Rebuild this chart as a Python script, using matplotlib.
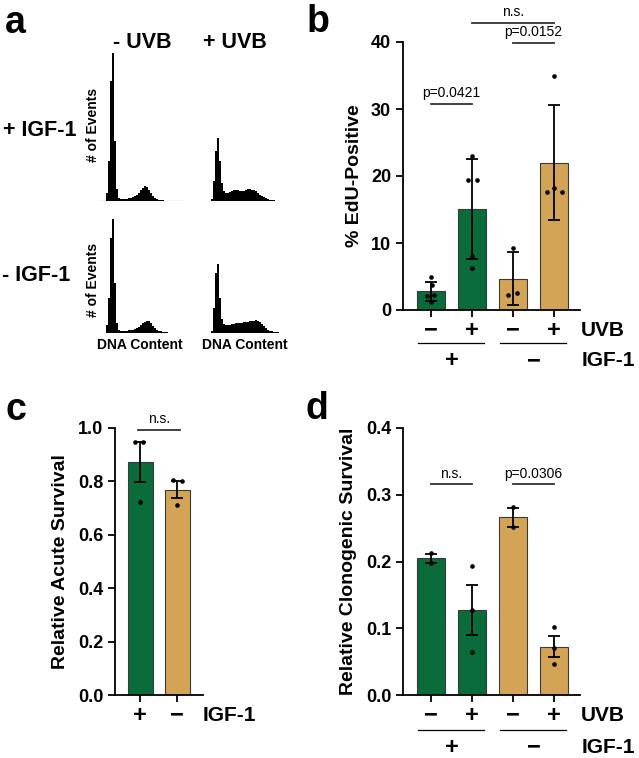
#!/usr/bin/env python3
"""Four-panel figure: cell-cycle histograms, EdU incorporation and survival."""

import matplotlib

matplotlib.use("Agg")
import matplotlib.pyplot as plt

W, H = 639, 758
GREEN = "#0a6b3b"
TAN = "#d4a456"
EDGE = "#3a3a3a"

# panel a: flow histograms (bin heights, arbitrary units)
HIST_PLUS_IGF_MINUS_UVB = [
    0, 0, 0, 0, 8, 40, 120, 148, 60, 12, 3, 2, 2, 2, 2.5, 3, 3, 4, 5, 6,
    8, 11, 13, 15, 14, 11, 8, 5, 3, 2, 1.5, 1, 1, 0.5, 0.5, 0.5, 0.3, 0,
    0.3, 0, 0.3, 0.3, 0,
]
HIST_PLUS_IGF_PLUS_UVB = [
    2, 20, 50, 63, 40, 18, 10, 8, 8, 9, 10, 11, 11, 11, 10, 10, 10, 11, 12,
    12, 11, 11, 10, 8, 6, 5, 4, 3, 2, 1.5, 1, 1, 0.5, 0.5, 0.3, 0, 0.3, 0,
]
HIST_MINUS_IGF_MINUS_UVB = [
    0, 8, 35, 95, 114, 50, 10, 3, 2, 2, 2, 2, 2.5, 3, 3, 4, 5, 6, 8, 10,
    11, 12, 12, 10, 7, 5, 3, 2, 1.5, 1, 0.5, 0.5, 0.3, 0, 0.3, 0,
]
HIST_MINUS_IGF_PLUS_UVB = [
    2, 25, 60, 69, 35, 14, 9, 8, 8, 8, 9, 9, 10, 10, 10, 10, 11, 11, 11,
    12, 12, 12, 13, 12, 11, 9, 7, 5, 3, 2, 1.5, 1, 0.5, 0.5, 0.3, 0,
]

# panel b: % EdU-positive (mean, SD, replicates)
UVB_SIGNS = ["\u2212", "+", "\u2212", "+"]
IGF_SIGNS = ["+", "\u2212"]
BAR_COLORS = [GREEN, GREEN, TAN, TAN]
EDU_MEAN = [2.8, 15.1, 4.7, 22.0]
EDU_ERR = [1.4, 7.45, 3.9, 8.6]
EDU_POINTS = [
    [4.9, 3.7, 2.2, 2.1, 1.2],
    [23.0, 19.4, 19.4, 8.1, 6.2],
    [9.2, 2.2, 2.6],
    [35.0, 17.6, 18.2, 17.6],
]
EDU_JITTER = [
    [0, 0.02, 0.08, -0.1, 0],
    [0, -0.1, 0.12, 0, 0],
    [0, -0.12, 0.1],
    [0, -0.18, 0, 0.18],
]

# panel c: relative acute survival (mean, SEM, replicates)
ACUTE_MEAN = [0.873, 0.769]
ACUTE_ERR = [0.076, 0.031]
ACUTE_POINTS = [[0.948, 0.948, 0.721], [0.805, 0.80, 0.711]]
ACUTE_JITTER = [[-0.14, 0.08, 0], [-0.1, 0.12, 0]]

# panel d: relative clonogenic survival (mean, SEM, replicates)
CLONO_MEAN = [0.2045, 0.128, 0.266, 0.0723]
CLONO_ERR = [0.007, 0.0375, 0.0145, 0.0159]
CLONO_POINTS = [
    [0.213, 0.1985],
    [0.194, 0.128, 0.064],
    [0.281, 0.252],
    [0.102, 0.070, 0.047],
]

plt.rcParams.update({
    "font.family": ["Liberation Sans", "DejaVu Sans"],
    "font.weight": "bold",
    "axes.linewidth": 1.3,
})
fig = plt.figure(figsize=(W / 100, H / 100), dpi=100)


def px_axes(left, top, right, bottom):
  return fig.add_axes([left / W, 1 - bottom / H, (right - left) / W,
                       (bottom - top) / H])


def px_text(x, y, s, **kw):
  kw.setdefault("ha", "center")
  kw.setdefault("va", "center")
  kw.setdefault("fontweight", "bold")
  fig.text(x / W, 1 - y / H, s, **kw)


# ---------- panel a ----------
def histogram(left, baseline, values, line=False):
  ax = px_axes(left, baseline - 150, left + 2 * len(values), baseline)
  ax.stairs(values, range(len(values) + 1), fill=True, color="black",
            linewidth=0)
  if line:
    ax.axhline(0, color="#3a3a8a", linewidth=0.8, zorder=0)
  ax.set_xlim(0, len(values))
  ax.set_ylim(0, 150)
  ax.axis("off")


histogram(98, 201, HIST_PLUS_IGF_MINUS_UVB, line=True)
histogram(211, 201, HIST_PLUS_IGF_PLUS_UVB)
histogram(104, 333, HIST_MINUS_IGF_MINUS_UVB)
histogram(211, 333, HIST_MINUS_IGF_PLUS_UVB)

px_text(15, 23, "a", fontsize=27)
px_text(142, 43, "- UVB", fontsize=15.5)
px_text(235, 43, "+ UVB", fontsize=15.5)
px_text(40, 130, "+ IGF-1", fontsize=15.5)
px_text(36, 275, "- IGF-1", fontsize=15.5)
px_text(93, 125, "# of Events", fontsize=10, rotation=90)
px_text(93, 280, "# of Events", fontsize=10, rotation=90)
px_text(140, 345, "DNA Content", fontsize=10)
px_text(245, 345, "DNA Content", fontsize=10)

px_text(318, 22, "b", fontsize=27)
px_text(16, 410, "c", fontsize=27)
px_text(317, 409, "d", fontsize=27)


def style(ax, yticks, ylabel):
  for side in ("top", "right"):
    ax.spines[side].set_visible(False)
  ax.set_yticks(yticks)
  ax.tick_params(axis="y", length=5, width=1.3, labelsize=13)
  ax.tick_params(axis="x", length=5, width=1.3, labelbottom=False)
  for lab in ax.get_yticklabels():
    lab.set_fontweight("bold")
  ax.set_ylabel(ylabel, fontsize=14, fontweight="bold", labelpad=6)


def bars(ax, means, errs, points, jitter, colors):
  x = list(range(len(means)))
  ax.bar(x, means, width=0.68, color=colors, edgecolor=EDGE, linewidth=0.8,
         zorder=2)
  ax.errorbar(x, means, yerr=errs, fmt="none", ecolor="black",
              elinewidth=1.3, capsize=4.5, capthick=1.3, zorder=3)
  for i, (pts, jit) in enumerate(zip(points, jitter)):
    ax.scatter([i + j for j in jit], pts, s=11, color="black", zorder=4,
               linewidths=0)
  ax.set_xticks(x)


def bracket(ax, x0, x1, y, label, dy):
  ax.plot([x0, x1], [y, y], color="#333333", linewidth=1.3, clip_on=False)
  ax.text((x0 + x1) / 2, y + dy, label, ha="center", va="bottom",
          fontsize=10, fontweight="normal", clip_on=False)


def group_rows(ax, row_y, line_y, igf_y, label_x):
  tr = ax.get_xaxis_transform()
  for i, sign in enumerate(UVB_SIGNS):
    ax.text(i, row_y, sign, transform=tr, ha="center", va="center",
            fontsize=17, fontweight="bold")
  ax.text(label_x, row_y, "UVB", transform=tr, ha="left", va="center",
          fontsize=15, fontweight="bold")
  for k, sign in enumerate(IGF_SIGNS):
    lo = 2 * k
    ax.plot([lo - 0.32, lo + 1.3], [line_y, line_y], transform=tr,
            color="black", linewidth=0.9, clip_on=False)
    ax.text(lo + 0.5, igf_y, sign, transform=tr, ha="center", va="center",
            fontsize=17, fontweight="bold")
  ax.text(label_x, igf_y, "IGF-1", transform=tr, ha="left", va="center",
          fontsize=15, fontweight="bold")


# ---------- panel b ----------
axb = px_axes(403, 42, 580, 310)
bars(axb, EDU_MEAN, EDU_ERR, EDU_POINTS, EDU_JITTER, BAR_COLORS)
axb.set_xlim(-0.68, 3.63)
axb.set_ylim(0, 40)
style(axb, [0, 10, 20, 30, 40], "% EdU-Positive")
bracket(axb, 0, 1, 30.7, "p=0.0421", 0.6)
bracket(axb, 2, 3, 39.9, "p=0.0152", 0.6)
bracket(axb, 1, 3, 42.9, "n.s.", 0.6)
group_rows(axb, -0.075, -0.123, -0.19, 3.66)

# ---------- panel c ----------
axc = px_axes(115, 428, 203, 695)
bars(axc, ACUTE_MEAN, ACUTE_ERR, ACUTE_POINTS, ACUTE_JITTER, [GREEN, TAN])
axc.set_xlim(-0.68, 1.70)
axc.set_ylim(0, 1.0)
style(axc, [0.0, 0.2, 0.4, 0.6, 0.8, 1.0], "Relative Acute Survival")
axc.set_yticklabels(["0.0", "0.2", "0.4", "0.6", "0.8", "1.0"],
                    fontweight="bold")
bracket(axc, -0.05, 1.08, 0.994, "n.s.", 0.015)
trc = axc.get_xaxis_transform()
for i, sign in enumerate(IGF_SIGNS):
  axc.text(i, -0.075, sign, transform=trc, ha="center", va="center",
           fontsize=17, fontweight="bold")
axc.text(1.68, -0.075, "IGF-1", transform=trc, ha="left", va="center",
         fontsize=15, fontweight="bold")

# ---------- panel d ----------
axd = px_axes(403, 428, 580, 695)
bars(axd, CLONO_MEAN, CLONO_ERR, CLONO_POINTS,
     [[0] * len(p) for p in CLONO_POINTS], BAR_COLORS)
axd.set_xlim(-0.68, 3.63)
axd.set_ylim(0, 0.4)
style(axd, [0.0, 0.1, 0.2, 0.3, 0.4], "Relative Clonogenic Survival")
axd.set_yticklabels(["0.0", "0.1", "0.2", "0.3", "0.4"], fontweight="bold")
bracket(axd, 0, 1, 0.316, "n.s.", 0.005)
bracket(axd, 2, 3, 0.316, "p=0.0306", 0.005)
group_rows(axd, -0.075, -0.131, -0.195, 3.66)

fig.savefig("out.png", dpi=100)
